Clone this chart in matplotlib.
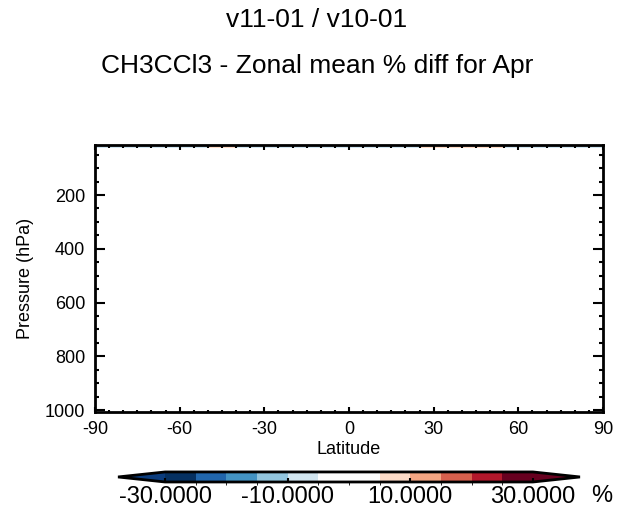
import numpy as np
import matplotlib
matplotlib.use('Agg')
import matplotlib.pyplot as plt
from matplotlib.colors import ListedColormap, BoundaryNorm
from matplotlib.ticker import MultipleLocator

plt.rcParams['font.family'] = ['Liberation Sans', 'DejaVu Sans']
plt.rcParams['axes.unicode_minus'] = False

# ── Data ──────────────────────────────────────────────────────────────────────
TITLE1 = "v11-01 / v10-01"
TITLE2 = "CH3CCl3 - Zonal mean % diff for Apr"

levels = [-30, -25, -20, -15, -10, -5, 0, 5, 10, 15, 20, 25, 30]
level_colors = ["#053061", "#2166ac", "#4393c3", "#92c5de", "#d1e5f0", "#ffffff",
                "#ffffff", "#fddbc7", "#f4a582", "#d6604d", "#b2182b", "#67001f"]
under_color = "#0b3c7d"
over_color = "#67001f"
cbar_ticks = [-30, -10, 10, 30]

# only the top model level carries any visible difference
lat_edges = [-90, -85, -80, -75, -70, -65, -60, -55, -50, -45, -40, -35, -30,
             -25, -20, -15, -10, -5, 0, 5, 10, 15, 20, 25, 30, 35, 40, 45,
             50, 55, 60, 65, 70, 75, 80, 85, 90]
top_pres_edges = [10, 24]
top_row_diff = [-6, -6, -6, -6, -6, -6, -6, -6, 6, 6, -6, -6, -6,
                -6, -6, -6, -6, -6, -6, -6, -6, -6, -6, 6, 6, 6, 6,
                6, 6, -6, -6, -6, -6, -6, -6, -6]

# ── Plot ──────────────────────────────────────────────────────────────────────
fig = plt.figure(figsize=(6.34, 5.14), dpi=100)
ax = fig.add_axes([0.1498, 0.1994, 0.8013, 0.5185])

cmap = ListedColormap(level_colors)
cmap.set_under(under_color)
cmap.set_over(over_color)
norm = BoundaryNorm(levels, cmap.N)

Z = np.array([top_row_diff])
mesh = ax.pcolormesh(lat_edges, top_pres_edges, Z, cmap=cmap, norm=norm)

ax.set_xlim(-90, 90)
ax.set_ylim(1005, 14)
ax.set_xticks([-90, -60, -30, 0, 30, 60, 90])
ax.xaxis.set_minor_locator(MultipleLocator(5))
ax.set_yticks([200, 400, 600, 800, 1000])
ax.yaxis.set_minor_locator(MultipleLocator(50))

ax.tick_params(axis='both', which='both', direction='in', top=True, right=True,
               labelsize=13, width=1.5, colors='black')
ax.tick_params(axis='y', which='major', length=7, pad=7)
ax.tick_params(axis='y', which='minor', length=3)
ax.tick_params(axis='x', which='major', length=3.5, pad=7)
ax.tick_params(axis='x', which='minor', length=1.8)
for s in ax.spines.values():
    s.set_linewidth(2)

ax.set_xlabel("Latitude", fontsize=13, labelpad=2)
ax.set_ylabel("Pressure (hPa)", fontsize=13, labelpad=8)

fig.text(0.5, 0.961, TITLE1, ha='center', va='center', fontsize=19)
fig.text(0.5, 0.872, TITLE2, ha='center', va='center', fontsize=19)

# ── Colorbar ──────────────────────────────────────────────────────────────────
cax = fig.add_axes([118 / 634, 0.0623, 462 / 634, 0.0195])
cb = fig.colorbar(mesh, cax=cax, orientation='horizontal', extend='both',
                  extendfrac=0.128, ticks=cbar_ticks, drawedges=False)
cb.outline.set_linewidth(2)
cb.ax.set_xticklabels([f"{t:.4f}" for t in cbar_ticks])
cb.ax.tick_params(labelsize=17, length=3, width=1.5, direction='in', pad=3)
fig.text(0.933, 0.0623 - 0.006, "%", ha='left', va='top', fontsize=17)

plt.savefig("out.png", dpi=100)
